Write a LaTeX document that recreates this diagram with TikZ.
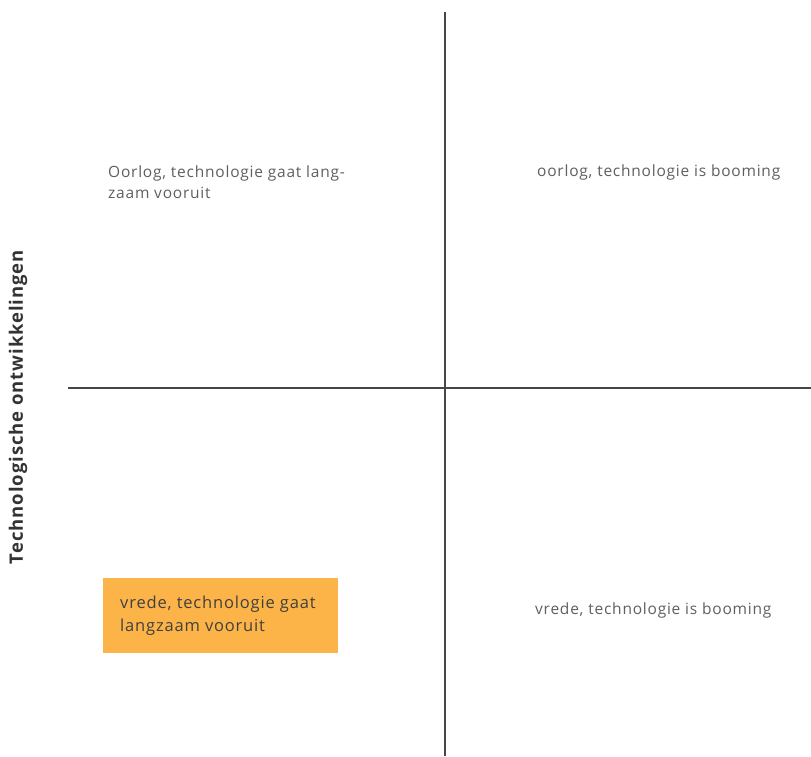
\documentclass[tikz,border=0pt]{standalone}
\usepackage{fontspec}
\setmainfont{Open Sans}
\newfontfamily\quadfont[LetterSpace=5]{Open Sans}
\usepackage{tikz}
\usetikzlibrary{positioning}
\definecolor{boxorange}{RGB}{252,180,72}
\definecolor{txtgray}{RGB}{95,95,95}
\definecolor{axisgray}{RGB}{70,70,70}

\begin{document}
\begin{tikzpicture}[x=1pt, y=-1pt,
    quadtext/.style={anchor=west, align=left, text=txtgray, font=\quadfont\fontsize{15.5}{21}\selectfont, inner sep=0pt},
    axisline/.style={draw=axisgray, line width=1.3pt}]
    \useasboundingbox (0,0) rectangle (811,756);
    % assen
    \coordinate (vtop) at (445,12);
    \coordinate (vbot) at (445,756);
    \coordinate (hleft) at (68,388);
    \coordinate (hright) at (811,388);
    \draw[axisline] (vtop) -- (vbot);
    \draw[axisline] (hleft) -- (hright);
    % kwadranten
    \node[quadtext] (tl) at (108,182) {Oorlog, technologie gaat lang-\\zaam vooruit};
    \node[quadtext] (tr) at (537,172) {oorlog, technologie is booming};
    \node[fill=boxorange, minimum width=235pt, minimum height=75pt, inner sep=0pt] (blbox) at (220.5,615.5) {};
    \node[quadtext, text=black!75, font=\quadfont\fontsize{16.5}{23}\selectfont] (bl) at (120,616) {vrede, technologie gaat\\langzaam vooruit};
    \node[quadtext] (br) at (535,610) {vrede, technologie is booming};
    % as-label
    \node[rotate=90, text=black!80, font=\quadfont\bfseries\fontsize{18.5}{20}\selectfont] (ylabel) at (18,407) {Technologische ontwikkelingen};
\end{tikzpicture}
\end{document}
